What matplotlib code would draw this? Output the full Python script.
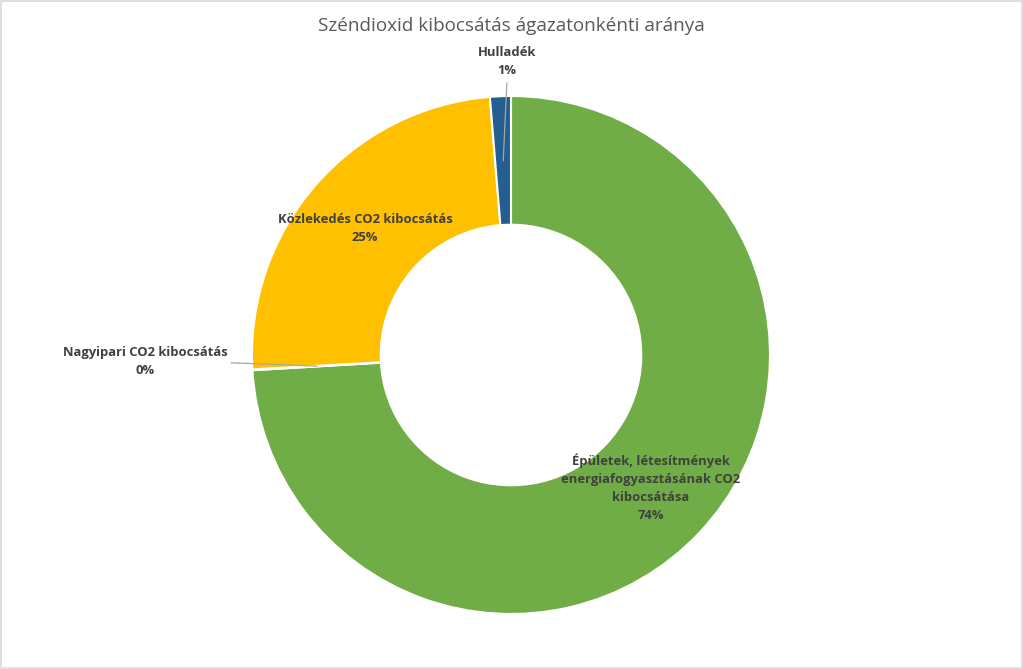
import matplotlib
matplotlib.use("Agg")
import matplotlib.pyplot as plt
import numpy as np

# -----------------------------
# Data
# -----------------------------
title = "Széndioxid kibocsátás ágazatonkénti aránya"
categories = [
    "Épületek, létesítmények\nenergiafogyasztásának CO2\nkibocsátása",
    "Nagyipari CO2 kibocsátás",
    "Közlekedés CO2 kibocsátás",
    "Hulladék",
]
values = [74.1, 0.05, 24.6, 1.3]
colors = ["#70AD47", "#A5A5A5", "#FFC000", "#255E91"]

# label positions (data coords, radius 1 = outer edge) and leader targets
label_pos = [(0.54, -0.514), (-1.413, -0.027), (-0.564, 0.49), (-0.015, 1.135)]
leader = [None, ((-1.08, -0.03), (-0.75, -0.043)), None, ((-0.016, 1.05), (-0.03, 0.75))]

plt.rcParams["font.family"] = ["Open Sans", "DejaVu Sans"]

fig = plt.figure(figsize=(10.23, 6.69), dpi=100)
fig.patch.set_facecolor("white")
ax = fig.add_axes([252 / 1023, 55 / 669, 518 / 1023, 518 / 669])

ax.pie(
    values,
    colors=colors,
    startangle=90,
    counterclock=False,
    radius=1.0,
    wedgeprops=dict(width=0.497, edgecolor="white", linewidth=1.5),
)
ax.set_xlim(-1, 1)
ax.set_ylim(-1, 1)
ax.set_aspect("equal")
ax.axis("off")

total = sum(values)
for cat, v, (lx, ly), ld in zip(categories, values, label_pos, leader):
    pct = f"{round(v / total * 100):.0f}%"
    ax.text(lx, ly, f"{cat}\n{pct}", ha="center", va="center", fontsize=9.4,
            fontweight="bold", color="#404040", linespacing=1.5, clip_on=False)
    if ld is not None:
        (x0, y0), (x1, y1) = ld
        ax.plot([x0, x1], [y0, y1], color="#A6A6A6", linewidth=0.9, clip_on=False)

fig.text(511 / 1023, 1 - 26 / 669, title, ha="center", va="center",
         fontsize=13.6, color="#595959")

# light frame around the chart area
fig.add_artist(plt.Rectangle((0.001, 0.001), 0.998, 0.997, transform=fig.transFigure,
                             fill=False, edgecolor="#D9D9D9", linewidth=1.2))

fig.savefig("out.png", dpi=100)
